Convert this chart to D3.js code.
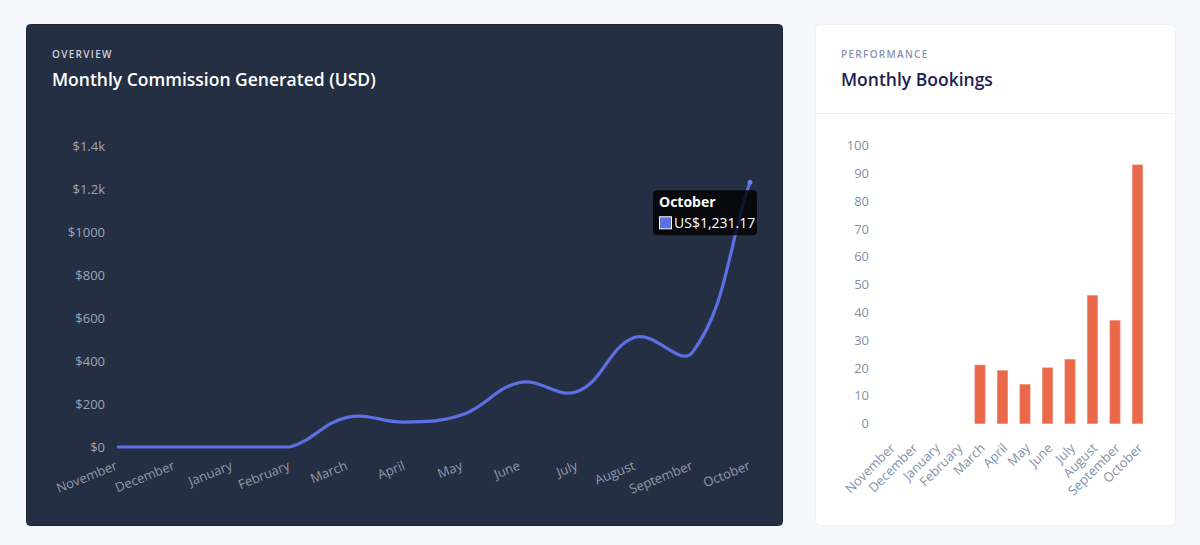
<!DOCTYPE html>
<html>
<head>
<meta charset="utf-8">
<script src="https://cdn.jsdelivr.net/npm/d3@7"></script>
<style>
  body { margin: 0; background: #f5f7fc; font-family: "Open Sans", sans-serif; }
  svg { display: block; }
</style>
</head>
<body>
<script>
var months = ["November", "December", "January", "February", "March", "April",
              "May", "June", "July", "August", "September", "October"];
var commission = [0, 0, 0, 0, 138, 116, 150, 300, 258, 510, 440, 1231.17];
var bookings = [0, 0, 0, 0, 21, 19, 14, 20, 23, 46, 37, 93];
var commissionTicks = [0, 200, 400, 600, 800, 1000, 1200, 1400];
var commissionTickLabels = ["$0", "$200", "$400", "$600", "$800", "$1000", "$1.2k", "$1.4k"];
var bookingTicks = [0, 10, 20, 30, 40, 50, 60, 70, 80, 90, 100];

var svg = d3.select("body").append("svg")
    .attr("width", 1200)
    .attr("height", 545);

// cards
svg.append("rect")
    .attr("x", 26.5).attr("y", 24.5)
    .attr("width", 756).attr("height", 501)
    .attr("rx", 4)
    .attr("fill", "#252f44")
    .attr("stroke", "#1d2536");

svg.append("rect")
    .attr("x", 815.5).attr("y", 24.5)
    .attr("width", 360).attr("height", 501)
    .attr("rx", 5)
    .attr("fill", "#ffffff")
    .attr("stroke", "#edf0f5");

svg.append("line")
    .attr("x1", 816).attr("x2", 1175)
    .attr("y1", 113.5).attr("y2", 113.5)
    .attr("stroke", "#edf0f5");

// headers
svg.append("text")
    .attr("x", 52).attr("y", 57.5)
    .attr("font-size", 10).attr("font-weight", 600)
    .attr("letter-spacing", 1.3)
    .attr("fill", "#c9cfdb")
    .text("OVERVIEW");
svg.append("text")
    .attr("x", 52).attr("y", 86)
    .attr("font-size", 17.5).attr("font-weight", 600)
    .attr("fill", "#ffffff")
    .text("Monthly Commission Generated (USD)");

svg.append("text")
    .attr("x", 841).attr("y", 57.5)
    .attr("font-size", 10).attr("font-weight", 600)
    .attr("letter-spacing", 1.3)
    .attr("fill", "#8793a8")
    .text("PERFORMANCE");
svg.append("text")
    .attr("x", 841).attr("y", 86)
    .attr("font-size", 17.5).attr("font-weight", 600)
    .attr("fill", "#1e2150")
    .text("Monthly Bookings");

// ---- line chart ----
var xL = d3.scalePoint().domain(months).range([117, 750]);
var yL = d3.scaleLinear().domain([0, 1400]).range([447, 146]);

var yAxisL = svg.append("g")
    .attr("transform", "translate(112,0)")
    .call(d3.axisLeft(yL).tickValues(commissionTicks).tickSize(0).tickPadding(7)
        .tickFormat((d, i) => commissionTickLabels[i]));
yAxisL.select(".domain").remove();
yAxisL.selectAll("text")
    .attr("font-family", "Open Sans").attr("font-size", 13)
    .attr("fill", "#9ca4b4");

var xAxisL = svg.append("g")
    .attr("transform", "translate(-3,460)")
    .call(d3.axisBottom(xL).tickSize(0).tickPadding(0));
xAxisL.select(".domain").remove();
xAxisL.selectAll("text")
    .attr("font-family", "Open Sans").attr("font-size", 13)
    .attr("fill", "#8f99ac")
    .attr("text-anchor", "end")
    .attr("dy", "0.75em")
    .attr("transform", "rotate(-22)");

// chart.js style spline (tension 0.4, control points capped to the chart area)
var pts = months.map((m, i) => ({x: xL(m), y: yL(commission[i])}));
var tension = 0.4;
var yTop = yL.range()[1], yBot = yL.range()[0];
pts.forEach(function(p, i) {
    var prev = pts[i - 1] || p, next = pts[i + 1] || p;
    var d01 = Math.hypot(p.x - prev.x, p.y - prev.y);
    var d12 = Math.hypot(next.x - p.x, next.y - p.y);
    var s01 = d01 / (d01 + d12) || 0, s12 = d12 / (d01 + d12) || 0;
    var fa = tension * s01, fb = tension * s12;
    p.cpPrev = {x: p.x - fa * (next.x - prev.x), y: p.y - fa * (next.y - prev.y)};
    p.cpNext = {x: p.x + fb * (next.x - prev.x), y: p.y + fb * (next.y - prev.y)};
    [p.cpPrev, p.cpNext].forEach(c => { c.y = Math.max(yTop, Math.min(yBot, c.y)); });
});
var path = d3.path();
path.moveTo(pts[0].x, pts[0].y);
for (var i = 1; i < pts.length; i++) {
    path.bezierCurveTo(pts[i - 1].cpNext.x, pts[i - 1].cpNext.y,
        pts[i].cpPrev.x, pts[i].cpPrev.y, pts[i].x, pts[i].y);
}
svg.append("path")
    .attr("d", path.toString())
    .attr("fill", "none")
    .attr("stroke", "#5c6fe3")
    .attr("stroke-width", 3.2)
    .attr("stroke-linejoin", "round");

var last = months.length - 1;
svg.append("circle")
    .attr("cx", xL(months[last])).attr("cy", yL(commission[last]))
    .attr("r", 2.5)
    .attr("fill", "#6b7de8");

// tooltip
var tipX = xL(months[last]) - 97, tipY = yL(commission[last]) + 8;
var tip = svg.append("g").attr("transform", "translate(" + tipX + "," + tipY + ")");
tip.append("rect")
    .attr("width", 104).attr("height", 45)
    .attr("rx", 4)
    .attr("fill", "rgba(0,0,0,0.8)");
tip.append("text")
    .attr("x", 6).attr("y", 17)
    .attr("font-size", 14).attr("font-weight", 700)
    .attr("fill", "#ffffff")
    .text(months[last]);
tip.append("rect")
    .attr("x", 6.5).attr("y", 26.5)
    .attr("width", 12).attr("height", 12)
    .attr("fill", "#5c6fe3")
    .attr("stroke", "#ffffff");
tip.append("text")
    .attr("x", 21).attr("y", 38)
    .attr("font-size", 14)
    .attr("fill", "#ffffff")
    .text("US$" + d3.format(",.2f")(commission[last]));

// ---- bar chart ----
var xB = d3.scaleBand().domain(months).range([878.75, 1148.75])
    .paddingInner(0.55).paddingOuter(0.275);
var yB = d3.scaleLinear().domain([0, 100]).range([423.5, 145.5]);

var yAxisB = svg.append("g")
    .attr("transform", "translate(875,0)")
    .call(d3.axisLeft(yB).tickValues(bookingTicks).tickSize(0).tickPadding(6));
yAxisB.select(".domain").remove();
yAxisB.selectAll("text")
    .attr("font-family", "Open Sans").attr("font-size", 13)
    .attr("fill", "#8391a8");

svg.append("g")
    .selectAll("rect")
    .data(months)
    .enter()
    .append("rect")
    .attr("x", d => xB(d))
    .attr("width", xB.bandwidth())
    .attr("y", (d, i) => yB(bookings[i]))
    .attr("height", (d, i) => yB(0) - yB(bookings[i]))
    .attr("fill", "#e9694a")
    .attr("stroke", "rgba(240,130,105,0.8)")
    .attr("stroke-width", 0.8);

var xAxisB = svg.append("g")
    .attr("transform", "translate(-1,442)")
    .call(d3.axisBottom(xB).tickSize(0).tickPadding(0));
xAxisB.select(".domain").remove();
xAxisB.selectAll("text")
    .attr("font-family", "Open Sans").attr("font-size", 13)
    .attr("fill", "#8391a8")
    .attr("text-anchor", "end")
    .attr("dy", "0.75em")
    .attr("transform", "rotate(-45)");
</script>
</body>
</html>
